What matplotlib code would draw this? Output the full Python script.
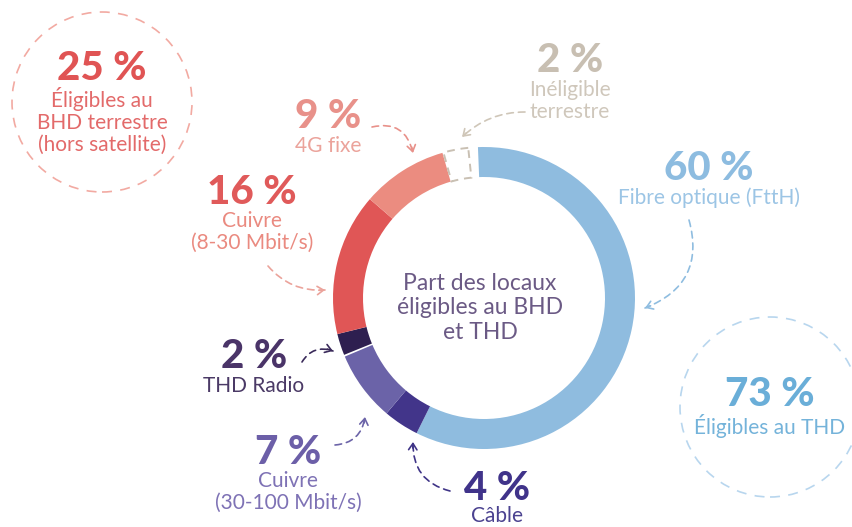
import matplotlib
matplotlib.use('Agg')
import matplotlib.pyplot as plt
import matplotlib.patches as mpatches
import numpy as np

# ── Canvas (data units = pixels, origin bottom-left) ───────────────
W, H = 852, 527
FONT = ['Lato', 'DejaVu Sans']

def P(x, y):
    """pixel position measured from the top-left corner -> data coords"""
    return x, H - y

# ── Data ───────────────────────────────────────────────────────────
segments   = ['Fibre optique (FttH)', 'Câble', 'Cuivre\n(30-100 Mbit/s)', 'THD Radio',
              'Cuivre\n(8-30 Mbit/s)', '4G fixe', 'Inéligible\nterrestre']
pct_labels = [60, 4, 7, 2, 16, 9, 2]                      # as printed
arc_shares = [58.0, 3.8, 7.5, 2.5, 15.2, 9.2, 3.8]        # arc lengths
seg_colors = ['#8fbcdf', '#42358a', '#6b63a8', '#2e1f50', '#e05656', '#eb8c80', 'none']

summary_pct  = [25, 73]
summary_text = ['Éligibles au\nBHD terrestre\n(hors satellite)', 'Éligibles au THD']

# ── Styling per segment ────────────────────────────────────────────
num_colors = ['#8dbce0', '#40338a', '#6c5fa8', '#4a3468', '#e05a5a', '#e8918a', '#c8bfb2']
lab_colors = ['#9cc5e5', '#4b4290', '#7e72b5', '#4b3a66', '#ea8a80', '#eba39b', '#cfc7bb']
num_pos = [(709, 168), (497, 489), (288, 452), (254, 357), (252, 192), (328, 117), (570, 61)]
lab_gap = [19, 17, 19, 19, 19, 19, 19]
arrows  = [  # start, end, rad
    ((689, 220), (645, 308), -0.45),
    ((450, 491), (413, 442), -0.40),
    ((335, 445), (365, 417),  0.40),
    ((302, 362), (333, 351), -0.40),
    ((268, 266), (325, 290),  0.25),
    ((372, 127), (413, 153), -0.50),
    ((525, 112), (462, 137),  0.20),
]
arrow_colors = ['#8fbde0', '#3f3487', '#6c64a8', '#3a2a5a', '#eba39b', '#e8918a', '#cfc6b8']

CX, CY, R, RING = 484, 298, 151, 30
NUM_FS, LAB_FS, LAB_LS = 29, 15, 1.12

fig = plt.figure(figsize=(W / 100, H / 100), dpi=100, facecolor='white')
ax = fig.add_axes([0, 0, 1, 1])

wedges, _ = ax.pie(arc_shares, colors=seg_colors, startangle=92.3, counterclock=False,
                   radius=R, center=P(CX, CY),
                   wedgeprops=dict(width=RING, linewidth=0))

# THD Radio: small white gap on the copper side
wedges[3].set_theta2(wedges[3].theta2 - 0.7)
# Inéligible: dashed empty box, inset in its slot
ine = wedges[6]
ine.set_theta1(ine.theta1 + 3.7)
ine.set_theta2(ine.theta2 - 0.4)
ine.set_facecolor('white')
ine.set_edgecolor('#c9c0b3')
ine.set_linewidth(1.4)
ine.set_linestyle((0, (4, 3)))

ax.set_xlim(0, W)
ax.set_ylim(0, H)
ax.set_aspect('equal')
ax.axis('off')

# ── Centre text ────────────────────────────────────────────────────
ax.text(*P(480, 308), 'Part des locaux\néligibles au BHD\net THD', ha='center', va='center',
        fontsize=16.5, color='#6b5a85', family=FONT, linespacing=1.18)

# ── Segment labels ─────────────────────────────────────────────────
for i, name in enumerate(segments):
    x, y = num_pos[i]
    ax.text(*P(x, y), f'{pct_labels[i]} %', ha='center', va='center', fontsize=NUM_FS,
            fontweight='black', color=num_colors[i], family=FONT)
    ax.text(*P(x, y + lab_gap[i]), name, ha='center', va='top', fontsize=LAB_FS,
            color=lab_colors[i], family=FONT, linespacing=LAB_LS)

# ── Arrows ─────────────────────────────────────────────────────────
for (s, e, rad), col in zip(arrows, arrow_colors):
    sx, sy = P(*s)
    ex, ey = P(*e)
    ax.annotate('', xy=(ex, ey), xytext=(sx, sy),
                arrowprops=dict(arrowstyle='-', color=col, lw=1.2, linestyle=(0, (4, 3)),
                                shrinkA=0, shrinkB=0, connectionstyle=f'arc3,rad={rad}'))
    # control point of the arc3 curve gives the end tangent
    mx, my = (sx + ex) / 2, (sy + ey) / 2
    ctx, cty = mx + rad * (ey - sy), my - rad * (ex - sx)
    tx, ty = ex - ctx, ey - cty
    n = np.hypot(tx, ty)
    ax.annotate('', xy=(ex, ey), xytext=(ex - tx / n * 6, ey - ty / n * 6),
                arrowprops=dict(arrowstyle='->,head_length=0.45,head_width=0.3', color=col,
                                lw=1.2, shrinkA=0, shrinkB=0))

# ── Summary bubbles ────────────────────────────────────────────────
bubbles = [((102, 102), '#f2aaa2', '#e05454', '#e36a6a'),
           ((770, 407), '#b8d6ee', '#6aaed8', '#74b3da')]
for (pos, ring_col, num_col, lab_col), pct, txt in zip(bubbles, summary_pct, summary_text):
    ax.add_patch(mpatches.Circle(P(*pos), 90, facecolor='none', edgecolor=ring_col,
                                 lw=1.2, linestyle=(0, (6, 5))))
    n_lines = txt.count('\n') + 1
    y_num = pos[1] - 34 if n_lines == 3 else pos[1] - 12
    ax.text(*P(pos[0], y_num), f'{pct} %', ha='center', va='center', fontsize=NUM_FS,
            fontweight='black', color=num_col, family=FONT)
    ax.text(*P(pos[0], y_num + 19), txt, ha='center', va='top', fontsize=LAB_FS,
            color=lab_col, family=FONT, linespacing=LAB_LS)

fig.savefig('out.png', dpi=100, facecolor='white')
